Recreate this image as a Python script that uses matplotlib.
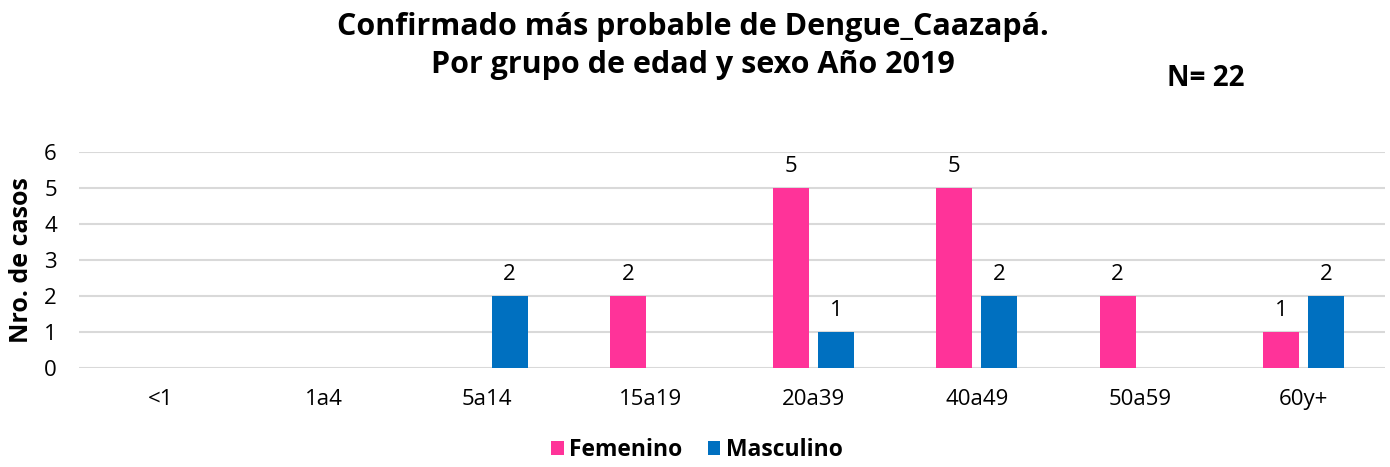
import matplotlib
matplotlib.use("Agg")
import matplotlib.pyplot as plt
import numpy as np

plt.rcParams['font.family'] = ['Open Sans', 'DejaVu Sans']

categories = ["<1", "1a4", "5a14", "15a19", "20a39", "40a49", "50a59", "60y+"]
femenino = [0, 0, 0, 2, 5, 5, 2, 1]
masculino = [0, 0, 2, 0, 1, 2, 0, 2]
series_names = ["Femenino", "Masculino"]
colors = ["#FF3399", "#0070C0"]

fig = plt.figure(figsize=(13.9, 4.67), dpi=100)
ax = fig.add_axes([79/1390, 1-368/467, (1385-79)/1390, (368-152)/467])

x = np.arange(len(categories))
w = 0.22
off = 0.138
for vals, o, c, name in [(femenino, -off, colors[0], series_names[0]),
                         (masculino, off, colors[1], series_names[1])]:
    xs = x + o
    hv = [v if v > 0 else np.nan for v in vals]
    ax.bar(xs, hv, width=w, color=c, label=name, zorder=3)
    for xi, v in zip(xs, vals):
        if v > 0:
            ax.text(xi, v + 0.3, str(v), ha='center', va='bottom', fontsize=16, color='#000000')

ax.set_xlim(-0.5, len(categories) - 0.5)
ax.set_ylim(0, 6)
ax.set_yticks(range(0, 7))
ax.set_xticks(x)
ax.set_xticklabels(categories)
ax.tick_params(axis='both', length=0, labelsize=16, colors='#000000')
ax.tick_params(axis='x', pad=15)
ax.tick_params(axis='y', pad=16)
ax.grid(axis='y', color='#D9D9D9', linewidth=1.5, zorder=0)
for s in ax.spines.values():
    s.set_visible(False)
ax.set_ylabel("Nro. de casos", fontsize=18, fontweight='bold')
ax.yaxis.set_label_coords(-45/1306, 0.5)

fig.text(693/1390, 1-46/467, "Confirmado más probable de Dengue_Caazapá.\nPor grupo de edad y sexo Año 2019",
         ha='center', va='center', fontsize=22, fontweight='bold', linespacing=1.38)
fig.text(1206/1390, 1-78/467, "N= 22", ha='center', va='center', fontsize=20, fontweight='bold')

fig.legend(loc='center', bbox_to_anchor=(697/1390, 1-450/467), ncol=2, frameon=False,
           prop={'size': 16.5, 'weight': 'bold'}, handlelength=0.55, handleheight=0.55,
           handletextpad=0.25, columnspacing=1.1)

fig.savefig("out.png", dpi=100)
